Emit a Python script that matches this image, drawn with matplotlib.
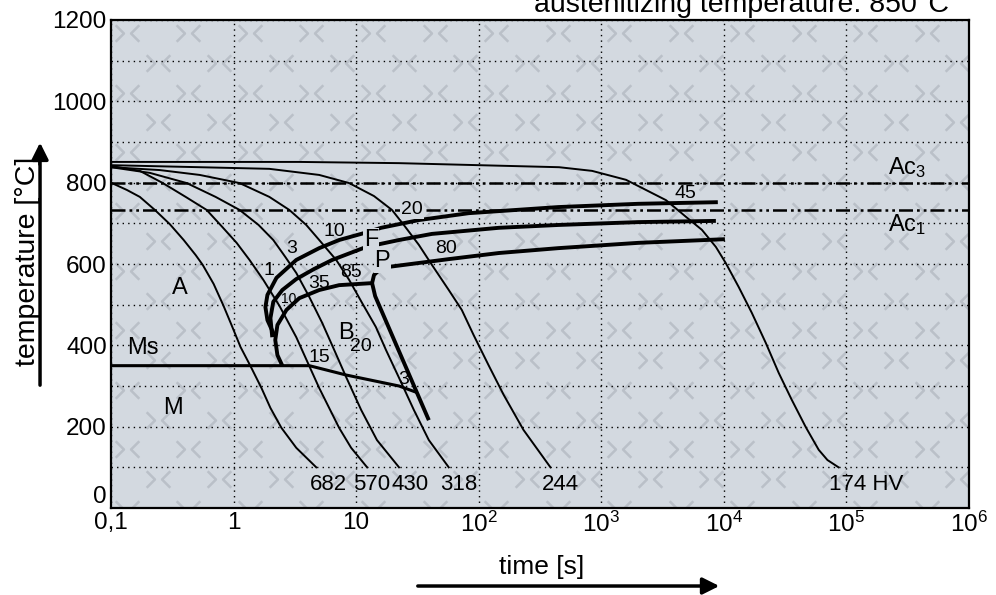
import numpy as np
import matplotlib.pyplot as plt
from matplotlib.path import Path

plt.rcParams['font.family'] = ['Liberation Sans', 'DejaVu Sans']
plt.rcParams['mathtext.fontset'] = 'custom'
plt.rcParams['mathtext.rm'] = 'Liberation Sans'
plt.rcParams['mathtext.it'] = 'Liberation Sans:italic'

# cooling curves (time s, temperature C), end label = hardness HV
t_682 = [0.1, 0.135, 0.172, 0.228, 0.302, 0.392, 0.491, 0.56, 0.688, 0.829, 0.963, 1.14, 1.375, 1.69, 2.0, 2.46, 3.25, 4.73]
T_682 = [800, 782, 765, 733, 698, 659, 622, 598, 551, 497, 450, 396, 349, 295, 246, 197, 148, 100]

t_570 = [0.1, 0.172, 0.265, 0.407, 0.603, 0.799, 1.06, 1.35, 1.75, 2.37, 3.25, 4.15, 5.0, 7.27, 9.11, 12.3]
T_570 = [841, 829, 799, 765, 733, 693, 652, 610, 561, 497, 420, 349, 295, 197, 148, 100]

t_430 = [0.1, 0.208, 0.415, 0.714, 1.12, 1.60, 2.11, 2.65, 3.25, 4.15, 5.29, 6.62, 8.29, 11.0, 14.8, 22.4]
T_430 = [838, 824, 799, 765, 733, 696, 659, 617, 578, 519, 455, 389, 322, 241, 167, 100]

t_318 = [0.1, 0.25, 0.53, 1.12, 1.96, 2.85, 3.92, 5.0, 6.88, 8.77, 11.2, 14.5, 17.5, 22.4, 29.6, 39.2, 57.0]
T_318 = [838, 831, 819, 799, 765, 733, 696, 659, 610, 561, 504, 445, 389, 320, 241, 167, 100]

t_244 = [0.1, 0.53, 1.96, 5.0, 8.77, 14.0, 19.6, 24.5, 32.5, 41.5, 57.0, 72.8, 91.0, 120, 160, 232, 385]
T_244 = [843, 838, 834, 819, 799, 767, 733, 696, 647, 598, 536, 487, 425, 352, 278, 192, 100]

t_174 = [0.1, 3.44, 22.4, 100, 453, 841, 1592, 2317, 3373, 4909, 6622, 8610, 10380, 13240,
         16900, 21980, 28050, 35810, 46560, 59430, 70000, 86300]
T_174 = [851, 851, 848, 843, 838, 829, 807, 782, 757, 716, 684, 642, 602, 543,
         480, 406, 332, 266, 199, 143, 118, 100]

hardness = ['682', '570', '430', '318', '244', '174 HV']
hv_t = [6.0, 13.5, 27.6, 68.7, 465, 1.45e5]

# transformation lines
f_start_t = [2.15, 1.89, 1.82, 1.89, 2.24, 3.25, 5.0, 7.27, 11.6, 16.0, 32.5, 83, 447, 2000, 8930]
f_start_T = [425, 462, 494, 524, 566, 610, 639, 659, 676, 689, 708, 725, 740, 748, 752]

p_start_t = [2.07, 2.0, 2.11, 2.50, 3.25, 4.56, 6.38, 12.1, 22.4, 41.5, 146, 447, 2000, 8610]
p_start_T = [420, 467, 507, 536, 563, 588, 610, 642, 659, 674, 689, 696, 703, 706]

b_start_t = [2.50, 2.28, 2.19, 2.28, 2.70, 3.44, 5.0, 7.27, 13.5, 14.0, 15.4, 18.5, 57, 146, 447, 2000, 10200]
b_start_T = [350, 376, 413, 450, 487, 516, 536, 548, 553, 573, 585, 593, 612, 627, 639, 652, 661]

p_end_t = [13.5, 14.3, 39.2]
p_end_T = [553, 521, 216]

ms_t = [0.1, 4.15, 8.3, 22.4, 30.7]
ms_T = [350, 350, 327, 300, 285]

Ac3 = 800
Ac1 = 733

# percentage labels (text, t, T, size)
pct_labels = [('1', 1.96, 585, 14), ('3', 3.0, 639, 14), ('10', 6.6, 679, 14),
              ('20', 28.5, 733, 14), ('45', 4875, 774, 14), ('10', 2.8, 514, 10),
              ('35', 5.0, 553, 14), ('85', 9.1, 578, 14), ('80', 54, 639, 14),
              ('15', 5.0, 371, 14), ('20', 11, 396, 14), ('3', 24.6, 315, 14)]
phase_labels = [('A', 0.364, 541), ('B', 8.3, 430), ('M', 0.32, 246), ('Ms', 0.182, 393),
                ('F', 13.2, 659), ('P', 16.3, 607)]

bg = '#d3d9e0'

fig = plt.figure(figsize=(9.96, 5.95), dpi=100)
ax = fig.add_axes([0.1114, 0.1462, 0.8615, 0.8202])
ax.set_facecolor(bg)
ax.set_xscale('log')
ax.set_xlim(0.1, 1e6)
ax.set_ylim(0, 1200)

# watermark "><" pattern
mark = Path([(-1, 0.7), (-0.3, 0), (-1, -0.7), (1, 0.7), (0.3, 0), (1, -0.7)],
            [Path.MOVETO, Path.LINETO, Path.LINETO, Path.MOVETO, Path.LINETO, Path.LINETO])
wx, wy = [], []
for r in range(17):
    off = 0 if r % 2 == 0 else 0.0358
    for c in range(-1, 14):
        wx.append(0.0186 + off + c * 0.0717)
        wy.append(0.973 - r * 0.0609)
ax.plot(wx, wy, ls='none', marker=mark, ms=17, mew=1.8, mec='#bac0c8', mfc='none',
        transform=ax.transAxes, zorder=0.5, clip_on=True)

ax.set_xticks([0.1, 1, 10, 1e2, 1e3, 1e4, 1e5, 1e6])
ax.set_xticklabels(['0,1', '1', '10', '$10^2$', '$10^3$', '$10^4$', '$10^5$', '$10^6$'])
ax.xaxis.set_minor_locator(plt.NullLocator())
ax.set_yticks(range(0, 1201, 200))
ax.set_yticks(range(0, 1201, 100), minor=True)
ax.tick_params(which='both', length=0, labelsize=17.5, pad=3)
ax.get_yticklabels()[0].set_va('bottom')
ax.grid(True, which='major', axis='x', ls=(0, (1, 3)), color='k', lw=1.0, zorder=1)
ax.grid(True, which='both', axis='y', ls=(0, (1, 3)), color='k', lw=1.0, zorder=1)
for s in ax.spines.values():
    s.set_linewidth(1.6)

dash = (0, (5.6, 1.6, 1.1, 1.6, 1.1, 1.6))
ax.axhline(Ac3, color='k', lw=1.8, ls=dash, zorder=2)
ax.axhline(Ac1, color='k', lw=1.8, ls=dash, zorder=2)

for t, T in [(t_682, T_682), (t_570, T_570), (t_430, T_430), (t_318, T_318), (t_244, T_244), (t_174, T_174)]:
    ax.plot(t, T, color='k', lw=1.4, zorder=3)

for t, T in [(f_start_t, f_start_T), (p_start_t, p_start_T), (b_start_t, b_start_T), (p_end_t, p_end_T)]:
    ax.plot(t, T, color='k', lw=2.8, zorder=4, solid_capstyle='butt')
ax.plot(ms_t, ms_T, color='k', lw=2.2, zorder=4)

for lab, x in zip(hardness, hv_t):
    ax.text(x, 57, lab, fontsize=16, ha='center', va='center', zorder=5)

for i, (lab, x, y, fs) in enumerate(pct_labels):
    kw = {}
    if i == 3:
        kw = dict(bbox=dict(facecolor=bg, edgecolor='none', pad=0.5))
    ax.text(x, y, lab, fontsize=fs, ha='center', va='center', zorder=5, **kw)

for lab, x, y in phase_labels:
    kw = {}
    if lab in ('F', 'P'):
        kw = dict(bbox=dict(facecolor=bg, edgecolor='none', pad=0.5))
    ax.text(x, y, lab, fontsize=17, ha='center', va='center', zorder=5, **kw)

ax.text(3.1e5, 836, 'Ac$_{3}$', fontsize=17, ha='center', va='center', zorder=5)
ax.text(3.1e5, 696, 'Ac$_{1}$', fontsize=17, ha='center', va='center', zorder=5)

fig.text(0.028, 0.56, 'temperature [°C]', rotation=90, fontsize=20.5, ha='center', va='center')
fig.text(0.544, 0.047, 'time [s]', fontsize=19, ha='center', va='center')
fig.text(0.744, 0.979, 'austenitizing temperature: 850°C', fontsize=20.5, ha='center', va='baseline')

ax.annotate('', xy=(0.0402, 0.765), xytext=(0.0402, 0.348), xycoords='figure fraction',
            arrowprops=dict(arrowstyle='-|>', lw=2.5, color='k', mutation_scale=25))
ax.annotate('', xy=(0.725, 0.0151), xytext=(0.4167, 0.0151), xycoords='figure fraction',
            arrowprops=dict(arrowstyle='-|>', lw=2.5, color='k', mutation_scale=25))

fig.savefig('out.png', dpi=100)
